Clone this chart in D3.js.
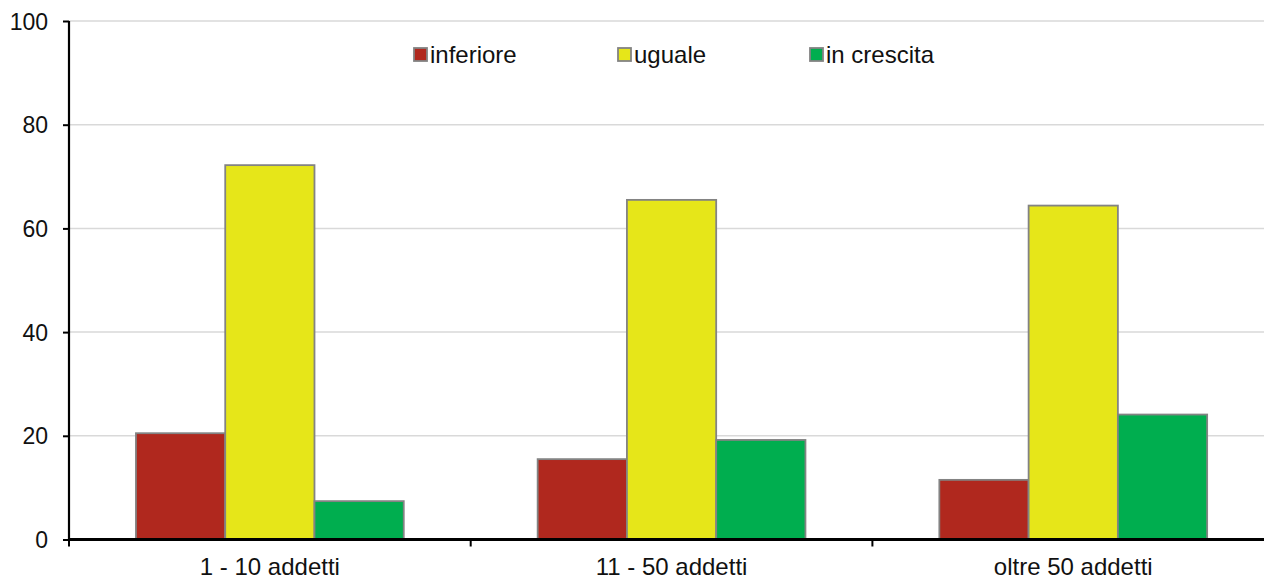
<!DOCTYPE html>
<html>
<head>
<meta charset="utf-8">
<script src="https://cdn.jsdelivr.net/npm/d3@7"></script>
<style>
  html, body { margin: 0; padding: 0; background: #fff; }
  svg { display: block; font-family: "Liberation Sans", Arial, sans-serif; }
</style>
</head>
<body>
<svg id="chart" width="1264" height="579"></svg>
<script>
// Company size classes
const categories = ["1 - 10 addetti", "11 - 50 addetti", "oltre 50 addetti"];
const seriesNames = ["inferiore", "uguale", "in crescita"];
const seriesColors = ["#B0281E", "#E6E619", "#00AE4F"];
// Percentage values per series, one entry per size class
const inferiore = [20.5, 15.5, 11.5];
const uguale = [72.2, 65.5, 64.4];
const inCrescita = [7.4, 19.2, 24.1];
const yTicks = [0, 20, 40, 60, 80, 100];

const seriesValues = [inferiore, uguale, inCrescita];
const FONT = "'Liberation Sans', Arial, sans-serif";

const svg = d3.select("#chart");
const margin = { left: 69, top: 21, bottom: 539.5 };
const bandWidth = 401.7;
const plotRight = margin.left + bandWidth * categories.length;

const x = d3.scaleBand()
  .domain(categories)
  .range([margin.left, plotRight])
  .paddingInner(0)
  .paddingOuter(0);

const y = d3.scaleLinear().domain([0, 100]).range([margin.bottom, margin.top]);

// Bars inside each size class, with empty space on both sides
const inner = d3.scaleBand()
  .domain(seriesNames)
  .range([0, x.bandwidth()])
  .paddingInner(0)
  .paddingOuter(0.75);

// Horizontal gridlines
svg.append("g")
  .selectAll("line")
  .data(yTicks.filter(d => d > 0))
  .join("line")
  .attr("x1", margin.left)
  .attr("x2", 1264)
  .attr("y1", d => y(d))
  .attr("y2", d => y(d))
  .attr("stroke", "#d9d9d9")
  .attr("stroke-width", 1.5);

// Bars
const groups = svg.append("g")
  .selectAll("g")
  .data(seriesNames)
  .join("g")
  .attr("fill", (d, i) => seriesColors[i]);

groups.selectAll("rect")
  .data((s, i) => categories.map((c, j) => ({ s, c, v: seriesValues[i][j] })))
  .join("rect")
  .attr("x", d => x(d.c) + inner(d.s))
  .attr("width", inner.bandwidth())
  .attr("y", d => y(d.v))
  .attr("height", d => y(0) - y(d.v))
  .attr("stroke", "#838383")
  .attr("stroke-width", 1.8);

// Y axis
const yAxis = svg.append("g")
  .attr("transform", `translate(${margin.left},0)`)
  .call(d3.axisLeft(y).tickValues(yTicks).tickSize(6).tickPadding(15));
yAxis.attr("font-size", null).attr("font-family", null);
yAxis.select(".domain").attr("stroke", "#000").attr("stroke-width", 2.2)
  .attr("d", `M0,${margin.top}V${margin.bottom}`);
yAxis.selectAll(".tick line").attr("stroke", "#000").attr("stroke-width", 2);
yAxis.selectAll(".tick text")
  .style("font-size", "23px")
  .style("font-family", FONT)
  .attr("fill", "#111")
  .attr("dy", "0.35em");

// X axis
const xAxis = svg.append("g")
  .attr("transform", `translate(0,${margin.bottom})`)
  .call(d3.axisBottom(x).tickSize(0).tickPadding(18));
xAxis.attr("font-size", null).attr("font-family", null);
xAxis.select(".domain").attr("stroke", "#000").attr("stroke-width", 3)
  .attr("d", `M${margin.left},0H1264`);
xAxis.selectAll(".tick text")
  .style("font-size", "24px")
  .style("font-family", FONT)
  .attr("fill", "#111")
  .attr("dy", "0.71em");

// Category separator ticks
svg.append("g")
  .selectAll("line")
  .data(categories)
  .join("line")
  .attr("x1", d => x(d))
  .attr("x2", d => x(d))
  .attr("y1", margin.bottom)
  .attr("y2", margin.bottom + 7)
  .attr("stroke", "#000")
  .attr("stroke-width", 2);

// Legend
const legendX = [414, 618, 810];
const legend = svg.append("g")
  .selectAll("g")
  .data(seriesNames)
  .join("g")
  .attr("transform", (d, i) => `translate(${legendX[i]},48)`);
legend.append("rect")
  .attr("width", 13)
  .attr("height", 13)
  .attr("fill", (d, i) => seriesColors[i])
  .attr("stroke", "#838383")
  .attr("stroke-width", 1.8);
legend.append("text")
  .attr("x", 16)
  .attr("y", 14.5)
  .style("font-size", "24px")
  .style("font-family", FONT)
  .attr("fill", "#111")
  .text(d => d);
</script>
</body>
</html>
